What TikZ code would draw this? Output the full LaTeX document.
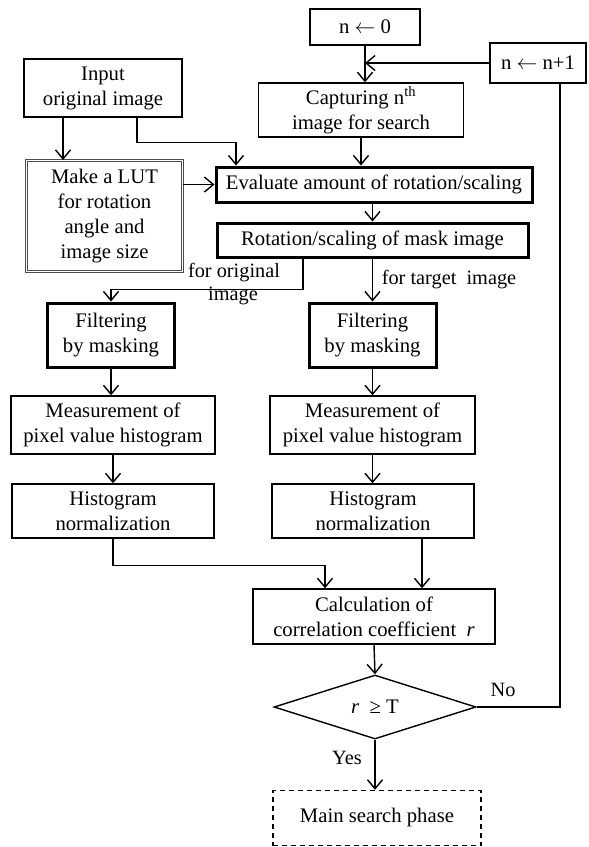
\documentclass[tikz,border=0pt]{standalone}
\usepackage{fontspec}
\setmainfont{Liberation Serif}
\usetikzlibrary{arrows.meta,shapes.geometric}
\begin{document}
\begin{tikzpicture}[x=1pt,y=-1pt,
  every node/.style={font=\fontsize{20.7}{25}\selectfont, align=center, inner sep=0pt},
  box/.style={draw, line width=1.4pt, rectangle},
  thickbox/.style={draw, line width=3pt, rectangle},
  dblbox/.style={draw=gray!60!black, double=white, double distance=1.6pt, line width=1.1pt, rectangle},
  dashbox/.style={draw, line width=1.4pt, dashed, dash pattern=on 5pt off 4pt, rectangle},
  arr/.style={line width=1.4pt, -{Straight Barb[length=9pt,width=15pt,line width=1.4pt]}},
  ln/.style={line width=1.4pt},
  lbl/.style={font=\fontsize{20.3}{24}\selectfont}
]
\useasboundingbox (0,0) rectangle (589,847);

\node[box, minimum width=110pt, minimum height=36pt] (n0) at (365,27) {n $\leftarrow$ 0};
\node[box, minimum width=96pt, minimum height=40pt] (nn) at (538,63) {n $\leftarrow$ n+1};
\node[box, minimum width=158pt, minimum height=58pt] (inp) at (103,88) {Input\\original image};
\node[box, minimum width=205pt, minimum height=54pt] (cap) at (361,110) {Capturing n\textsuperscript{th}\\image for search};
\node[dblbox, minimum width=156pt, minimum height=111pt] (lut) at (104.5,216) {Make a LUT\\for rotation\\angle and\\image size};
\node[thickbox, minimum width=316pt, minimum height=35pt] (eval) at (374,184.5) {Evaluate amount of rotation/scaling};
\node[thickbox, minimum width=311pt, minimum height=34pt] (rot) at (372.5,240) {Rotation/scaling of mask image};
\node[thickbox, minimum width=127pt, minimum height=64pt] (filL) at (111,335) {Filtering\\by masking};
\node[thickbox, minimum width=127pt, minimum height=64pt] (filR) at (372.5,335) {Filtering\\by masking};
\node[box, minimum width=204pt, minimum height=58pt] (measL) at (113,425) {Measurement of\\pixel value histogram};
\node[box, minimum width=205pt, minimum height=58pt] (measR) at (372.5,425) {Measurement of\\pixel value histogram};
\node[box, minimum width=202pt, minimum height=54pt] (histL) at (113,511) {Histogram\\normalization};
\node[box, minimum width=202pt, minimum height=54pt] (histR) at (373,511) {Histogram\\normalization};
\node[box, minimum width=242pt, minimum height=55pt] (calc) at (374,616.5) {Calculation of\\correlation coefficient \ \textit{r}};
\node[draw, line width=1.4pt, diamond, aspect=3.16, minimum width=202pt, minimum height=64pt] (dia) at (375,707) {\textit{r} \ ≥ T};
\node[dashbox, minimum width=208pt, minimum height=55pt] (main) at (377,818) {Main search phase};

% labels
\node[lbl] (lo1) at (234,273) {for original};
\node[lbl] (lo2) at (233,296) {image};
\node[lbl] (lt) at (449,280) {for target \ image};
\node[lbl] (lno) at (503,690) {No};
\node[lbl] (lyes) at (347,758) {Yes};

% connectors
\draw[arr] ([xshift=-40pt]inp.south) -- ([xshift=-40pt]inp.south |- lut.north);
\draw[arr] ([xshift=34pt]inp.south) -- ++(0,25) -| ([xshift=-138pt]eval.north);
\draw[arr] (lut.east |- eval.west) -- (eval.west);
\draw[arr] (n0.south) -- (n0.south |- cap.north);
\draw[arr] (nn.west) -- (nn.west -| n0.south);
\draw[arr] (cap.south) -- (cap.south |- eval.north);
\draw[arr] (rot.north |- eval.south) -- (rot.north);
\draw[arr] ([xshift=-69.5pt]rot.south) -- ++(0,31) -| (filL.north);
\draw[arr] (filR.north |- rot.south) -- (filR.north);
\draw[arr] (filL.south) -- (filL.south |- measL.north);
\draw[arr] (measL.south) -- (histL.north);
\draw[arr] (filR.south) -- (filR.south |- measR.north);
\draw[arr] (measR.south) -- (measR.south |- histR.north);
\draw[arr] (histL.south) -- ++(0,27) -| ([xshift=-49pt]calc.north);
\draw[arr] ([xshift=49pt]histR.south) -- ([xshift=49pt]histR.south |- calc.north);
\draw[arr] (calc.south) -- (dia.north);
\draw[arr] (dia.south) -- (dia.south |- main.north);
\draw[ln] (dia.east) -| ([xshift=22pt]nn.south);
\end{tikzpicture}
\end{document}
